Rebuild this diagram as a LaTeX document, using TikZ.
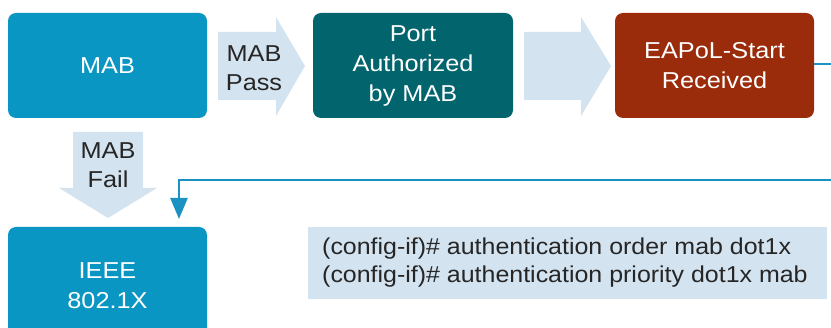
\documentclass[tikz,border=0pt]{standalone}
\usepackage{fontspec}
\setmainfont[FakeStretch=1.1]{Liberation Sans}
\usetikzlibrary{arrows.meta}
\definecolor{mabblue}{HTML}{0A96C2}
\definecolor{teal}{HTML}{02656E}
\definecolor{rust}{HTML}{9A2B0B}
\definecolor{pale}{HTML}{D3E3F0}
\definecolor{linkblue}{HTML}{1A93C2}
\begin{document}
\begin{tikzpicture}[x=1pt,y=-1pt,
  box/.style={rounded corners=8pt, inner sep=0pt, minimum width=199pt, minimum height=105pt,
    text=white, align=center, font=\fontsize{23}{30}\selectfont},
  label/.style={inner sep=0pt, align=center, text=black!85, font=\fontsize{23}{29.5}\selectfont},
  flow/.style={fill=pale, draw=none},
  link/.style={draw=linkblue, line width=2.4pt, -{Triangle[length=21pt,width=17pt]}}]
\useasboundingbox (0,0) rectangle (831,328);
\begin{scope}
\clip (0,0) rectangle (831,328);
% big flow arrows
\fill[flow] (218,32) -- (276,32) -- (276,17) -- (305,66) -- (276,116) -- (276,100) -- (218,100) -- cycle;
\fill[flow] (524,32) -- (581,32) -- (581,17) -- (611,66) -- (581,116) -- (581,100) -- (524,100) -- cycle;
\fill[flow] (73,132) -- (143,132) -- (143,188) -- (157,188) -- (108,218) -- (59,188) -- (73,188) -- cycle;
% boxes
\node[box, fill=mabblue, minimum width=199pt] (mab) at (107.5,65.5) {MAB};
\node[box, fill=teal, minimum width=200pt] (port) at (413,65.5) {Port\\Authorized\\by MAB};
\node[box, fill=rust, minimum width=199pt] (eap) at (714.5,65.5) {EAPoL-Start\\Received};
\node[box, fill=mabblue, minimum height=118pt] (ieee) at (107.5,286) {IEEE\\802.1X};
\node[label] (pass) at (254,68) {MAB\\Pass};
\node[label] (fail) at (108,165) {MAB\\Fail};
% config box
\node[fill=pale, inner sep=0pt, minimum width=519pt, minimum height=72pt, anchor=north west] (cfg) at (308,227) {};
\node[inner sep=0pt, anchor=west, align=left, text=black!85, font=\fontsize{23}{28}\selectfont\addfontfeature{FakeStretch=1.085}] (cfgtext) at (322,263) {(config-if)\# authentication order mab dot1x\\(config-if)\# authentication priority dot1x mab};
% connector
\coordinate (c1) at (845,64);
\coordinate (c2) at (845,180);
\coordinate (c3) at (179,180);
\coordinate (c4) at (179,219);
\draw[link] ([yshift=1.5pt]eap.east) -- (c1) -- (c2) -- (c3) -- (c4);
\end{scope}
\end{tikzpicture}
\end{document}
